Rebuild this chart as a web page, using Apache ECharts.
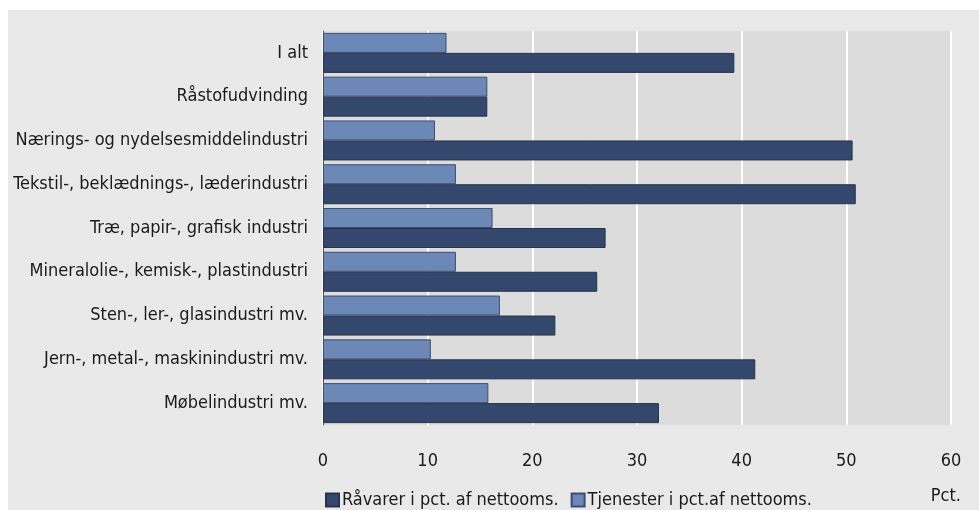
<!DOCTYPE html>
<html>
<head>
<meta charset="utf-8">
<script src="https://cdn.jsdelivr.net/npm/echarts@6/dist/echarts.min.js"></script>
<style>html,body{margin:0;padding:0;background:#fff;}#c{width:979px;height:510px;}</style>
</head>
<body>
<div id="c"></div>
<script>
const categories = [
  "I alt",
  "Råstofudvinding",
  "Nærings- og nydelsesmiddelindustri",
  "Tekstil-, beklædnings-, læderindustri",
  "Træ, papir-, grafisk industri",
  "Mineralolie-, kemisk-, plastindustri",
  "Sten-, ler-, glasindustri mv.",
  "Jern-, metal-, maskinindustri mv.",
  "Møbelindustri mv."
];
const raavarer = [39.3, 15.7, 50.6, 50.9, 27.0, 26.2, 22.2, 41.3, 32.1];
const tjenester = [11.8, 15.7, 10.7, 12.7, 16.2, 12.7, 16.9, 10.3, 15.8];
const seriesNames = ["Råvarer i pct. af nettooms.", "Tjenester i pct.af nettooms."];
const xTicks = [0, 10, 20, 30, 40, 50, 60];
const unitLabel = "Pct.";

const FONT = '"DejaVu Sans Condensed", "DejaVu Sans", sans-serif';
const FS = 18;
const chart = echarts.init(document.getElementById('c'), null, {renderer: 'canvas'});
chart.setOption({
  backgroundColor: '#ffffff',
  animation: false,
  textStyle: {fontFamily: FONT},
  graphic: [
    {type: 'rect', z: -10, shape: {x: 8, y: 10, width: 971, height: 500}, style: {fill: '#e9e9e9'}},
    {type: 'text', right: 18, top: 487, style: {text: unitLabel, fontSize: FS, fontFamily: FONT, fill: '#1a1a1a'}}
  ],
  legend: {
    left: 320, top: 486,
    itemWidth: 13, itemHeight: 13, itemGap: 12,
    icon: 'rect',
    textStyle: {fontSize: FS, color: '#1a1a1a', fontFamily: FONT, padding: [0, 0, 0, -2]},
    data: seriesNames
  },
  grid: {
    left: 323, right: 28, top: 31, bottom: 85,
    show: true, backgroundColor: '#dcdcdc', borderWidth: 0
  },
  xAxis: {
    type: 'value', min: 0, max: 60, interval: 10,
    axisLine: {show: false}, axisTick: {show: false},
    splitLine: {show: true, lineStyle: {color: '#ffffff', width: 2}},
    axisLabel: {fontSize: FS, color: '#1a1a1a', margin: 27, fontFamily: FONT,
      formatter: v => xTicks.includes(v) ? String(v) : ''}
  },
  yAxis: {
    type: 'category', data: categories, inverse: true,
    axisLine: {show: true, lineStyle: {color: '#555', width: 1}},
    axisTick: {show: false},
    axisLabel: {fontSize: FS, color: '#1a1a1a', margin: 15, fontFamily: FONT}
  },
  series: [
    {name: seriesNames[1], type: 'bar', data: tjenester, barWidth: 20, barGap: '0%',
      itemStyle: {color: '#6c88b7', borderColor: '#3c4d70', borderWidth: 1}},
    {name: seriesNames[0], type: 'bar', data: raavarer, barWidth: 20, barGap: '0%',
      itemStyle: {color: '#34476c', borderColor: '#27324c', borderWidth: 1}}
  ]
});
</script>
</body>
</html>
